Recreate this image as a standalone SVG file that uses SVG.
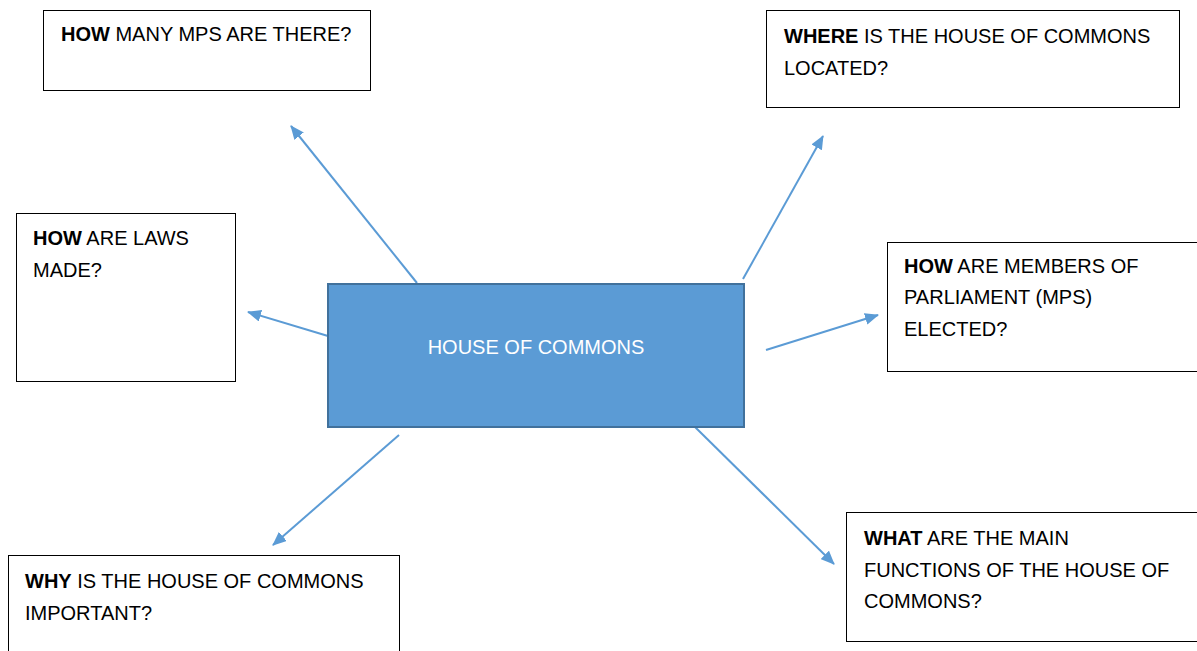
<svg xmlns="http://www.w3.org/2000/svg" width="1197" height="651" viewBox="0 0 1197 651">
<defs>
<style>
.box{fill:#fff;stroke:#000;stroke-width:1}
.t{font-family:"Liberation Sans",Arial,sans-serif;font-size:20px;fill:#000}
.b{font-weight:bold}
.c{fill:#fff;text-anchor:middle}
.arr{stroke:#5B9BD5;stroke-width:2;fill:none;marker-end:url(#ah)}
</style>
<marker id="ah" viewBox="0 0 14 12" refX="13" refY="6" markerWidth="14" markerHeight="12" markerUnits="userSpaceOnUse" orient="auto">
<path d="M0,0 L14,6 L0,12 z" fill="#5B9BD5"/>
</marker>
</defs>
<rect width="1197" height="651" fill="#fff"/>
<g id="connectors">
<line class="arr" x1="417" y1="283" x2="291" y2="126"/>
<line class="arr" x1="328" y1="336" x2="248" y2="312"/>
<line class="arr" x1="743" y1="279" x2="823" y2="136"/>
<line class="arr" x1="766" y1="350" x2="878" y2="315"/>
<line class="arr" x1="399" y1="435" x2="273" y2="545"/>
<line class="arr" x1="694" y1="426" x2="834" y2="564"/>
</g>
<g id="center">
<rect x="328" y="284" width="416" height="143" fill="#5B9BD5" stroke="#41719C" stroke-width="2"/>
<text class="t c" x="536" y="354">HOUSE OF COMMONS</text>
</g>
<g id="how-many">
<rect class="box" x="43.5" y="10.5" width="327" height="80"/>
<text class="t" x="61" y="41"><tspan class="b">HOW</tspan> MANY MPS ARE THERE?</text>
</g>
<g id="where">
<rect class="box" x="766.5" y="10.5" width="413" height="97"/>
<text class="t" x="784" y="43"><tspan class="b">WHERE</tspan> IS THE HOUSE OF COMMONS</text>
<text class="t" x="784" y="75">LOCATED?</text>
</g>
<g id="laws">
<rect class="box" x="16.5" y="213.5" width="219" height="168"/>
<text class="t" x="33" y="245"><tspan class="b">HOW</tspan> ARE LAWS</text>
<text class="t" x="33" y="277">MADE?</text>
</g>
<g id="elected">
<rect class="box" x="887.5" y="242.5" width="312" height="129"/>
<text class="t" x="904" y="273"><tspan class="b">HOW</tspan> ARE MEMBERS OF</text>
<text class="t" x="904" y="304">PARLIAMENT (MPS)</text>
<text class="t" x="904" y="336">ELECTED?</text>
</g>
<g id="why">
<rect class="box" x="8.5" y="555.5" width="391" height="100"/>
<text class="t" x="25" y="588"><tspan class="b">WHY</tspan> IS THE HOUSE OF COMMONS</text>
<text class="t" x="25" y="620">IMPORTANT?</text>
</g>
<g id="functions">
<rect class="box" x="846.5" y="512.5" width="355" height="129"/>
<text class="t" x="864" y="545"><tspan class="b">WHAT</tspan> ARE THE MAIN</text>
<text class="t" x="864" y="577">FUNCTIONS OF THE HOUSE OF</text>
<text class="t" x="864" y="608">COMMONS?</text>
</g>
</svg>
